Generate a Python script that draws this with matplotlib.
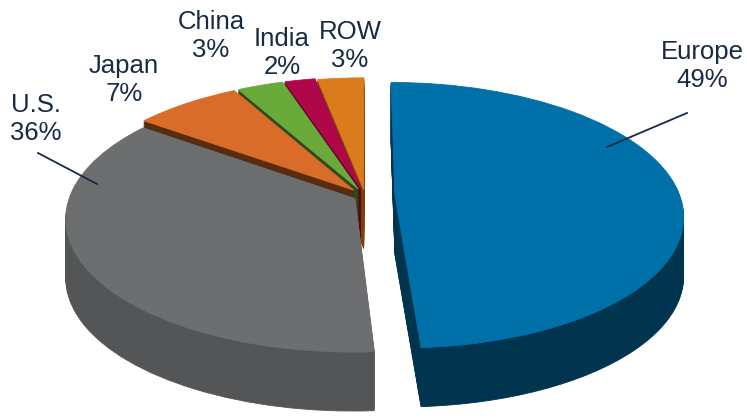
import matplotlib
matplotlib.use("Agg")
import matplotlib.pyplot as plt
from matplotlib.lines import Line2D
from matplotlib.transforms import Transform, Affine2D
import numpy as np

# ---- data ----
regions = ["Europe", "U.S.", "Japan", "China", "India", "ROW"]
shares = [49, 36, 7, 3, 2, 3]
top_colors = ["#0070A8", "#6D6E70", "#D96C28", "#6AAA3A", "#B0074A", "#DB7B1C"]
side_colors = ["#00344F", "#545557", "#5A2C0E", "#2F4A1A", "#5A0424", "#7A420C"]
explode = [0.105, 0.04, 0.06, 0.06, 0.06, 0.05]

W, H = 747, 418


class Perspective(Transform):
    """Tilted-disc view: unit pie plane -> pixel coords (y down)."""
    input_dims = 2
    output_dims = 2
    is_separable = False
    has_inverse = False

    def __init__(self, cx, cy, sx, sy, k):
        super().__init__()
        self.cx, self.cy, self.sx, self.sy, self.k = cx, cy, sx, sy, k

    def transform_non_affine(self, values):
        v = np.asarray(values, dtype=float)
        den = 1.0 + self.k * v[:, 1]
        x = self.cx + self.sx * v[:, 0] / den
        y = self.cy - self.sy * v[:, 1] / den
        return np.column_stack([x, y])


fig = plt.figure(figsize=(W / 100, H / 100), dpi=100)
ax = fig.add_axes([0, 0, 1, 1])

persp = Perspective(cx=365.0, cy=196.0, sx=285.0, sy=130.0, k=0.148)
depth_px = 59.0
nlayers = 45


def draw_pie(colors, dy):
    wedges, _ = ax.pie(shares, colors=colors, explode=explode, startangle=90,
                       counterclock=False, radius=1.0, center=(0, 0),
                       wedgeprops=dict(linewidth=0.6), normalize=True)
    tr = persp + Affine2D().translate(0, dy) + ax.transData
    for w in wedges:
        w.set_edgecolor(w.get_facecolor())
        w.set_transform(tr)


for k in range(nlayers, 0, -1):
    draw_pie(side_colors, depth_px * k / nlayers)
draw_pie(top_colors, 0.0)

ax.set_aspect("auto")
ax.set_xlim(0, W)
ax.set_ylim(H, 0)
ax.axis("off")

# ---- labels ----
txt_color = "#1A2A45"
font = dict(family=["Liberation Sans", "DejaVu Sans"], fontsize=18.5,
            color=txt_color, ha="center", va="center", linespacing=1.2)
label_pos = {
    "Europe": (702, 66),
    "U.S.": (36, 119),
    "Japan": (124, 80),
    "China": (211, 36),
    "India": (282, 53),
    "ROW": (350, 46),
}
for name, val in zip(regions, shares):
    x, y = label_pos[name]
    fig.text(x / W, 1 - y / H, f"{name}\n{val}%", **font)

for (x0, y0), (x1, y1) in [((687, 113), (607, 147)), ((38, 153), (97, 184))]:
    fig.add_artist(Line2D([x0 / W, x1 / W], [1 - y0 / H, 1 - y1 / H],
                          transform=fig.transFigure, color=txt_color, lw=1.3))

fig.savefig("out.png", dpi=100)
